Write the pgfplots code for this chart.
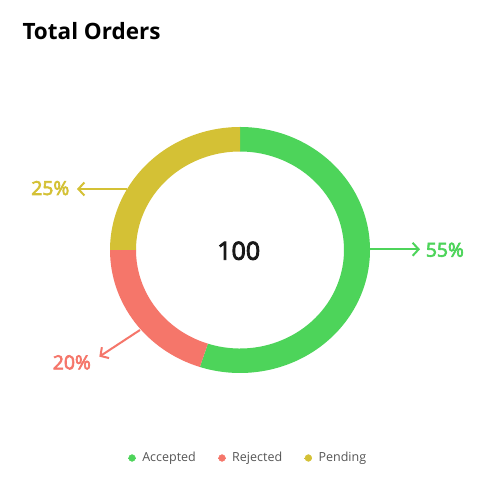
\documentclass[border=0pt]{standalone}
\usepackage{fontspec}
\setmainfont{Open Sans}
\newfontfamily\medfont[FakeBold=3.5]{Open Sans}
\usepackage{pgfplots}
\pgfplotsset{compat=1.18}
\usepackage{pgfplotstable}
\usetikzlibrary{arrows.meta}

\definecolor{accepted}{HTML}{4DD45A}
\definecolor{rejected}{HTML}{F5766A}
\definecolor{pending}{HTML}{D4C135}
\definecolor{legtext}{HTML}{555555}

% share of orders, in percent
\pgfplotstableread{
label    value
Accepted 55
Rejected 20
Pending  25
}\orders

\begin{document}
\begin{tikzpicture}
\pgfplotstablegetelem{0}{value}\of\orders \let\vA\pgfplotsretval
\pgfplotstablegetelem{1}{value}\of\orders \let\vB\pgfplotsretval
\pgfplotstablegetelem{2}{value}\of\orders \let\vC\pgfplotsretval
% clockwise from the top
\pgfmathsetmacro\sA{90}
\pgfmathsetmacro\eA{\sA-3.6*\vA}
\pgfmathsetmacro\eB{\eA-3.6*\vB}
\pgfmathsetmacro\eC{\eB-3.6*\vC}
\begin{axis}[
    hide axis, scale only axis, clip=false,
    x=1pt, y=1pt,
    xmin=0, xmax=480, ymin=0, ymax=500,
    legend columns=3,
    legend style={draw=none, fill=none, at={(axis cs:248,42)}, anchor=center,
        font=\fontsize{12.5}{15}\selectfont, text=legtext,
        /tikz/every odd column/.append style={column sep=4pt},
        /tikz/every even column/.append style={column sep=20pt}},
    legend image code/.code={\path (-4pt,0) -- (4pt,0);\fill[#1] (0,0) circle[radius=3.4pt];},
]
\fill[white] (axis cs:0,0) rectangle (axis cs:480,500);

% ring segments
\newcommand\seg[3]{%
  \fill[#3] (axis cs:{240+130*cos(#1)},{250+123*sin(#1)})
    arc[start angle=#1, end angle=#2, x radius=130, y radius=123]
    -- (axis cs:{240+104*cos(#2)},{250+98.5*sin(#2)})
    arc[start angle=#2, end angle=#1, x radius=104, y radius=98.5] -- cycle;}
\seg{\sA}{\eA}{accepted}
\seg{\eA}{\eB}{rejected}
\seg{\eB}{\eC}{pending}

\addlegendimage{accepted}\addlegendentry{Accepted}
\addlegendimage{rejected}\addlegendentry{Rejected}
\addlegendimage{pending}\addlegendentry{Pending}

% callouts
\tikzset{callout/.style={line width=2pt, -{Straight Barb[length=6pt,width=13pt]}},
  pct/.style={inner sep=0, font=\fontsize{19.3}{21}\medfont}}
\draw[accepted, callout] (axis cs:370,250.7) -- (axis cs:420,250.7);
\node[accepted, pct, anchor=base west] at (axis cs:425.7,243.3) {\vA\%};
\draw[pending, callout] (axis cs:127,311) -- (axis cs:77,311);
\node[pending, pct, anchor=base east] at (axis cs:69.5,305) {\vC\%};
\draw[rejected, callout] (axis cs:140,170) -- (axis cs:99.3,143.3);
\node[rejected, pct, anchor=base west] at (axis cs:52.7,130.7) {\vB\%};

% centre total and title
\node[anchor=center, inner sep=0, font=\fontsize{25}{28}\medfont, text=black!90]
  at (axis cs:238.7,249.2) {100};
\node[anchor=base west, inner sep=0, font=\fontsize{22.5}{26}\selectfont\bfseries]
  at (axis cs:22.3,460.7) {Total Orders};
\end{axis}
\end{tikzpicture}
\end{document}
